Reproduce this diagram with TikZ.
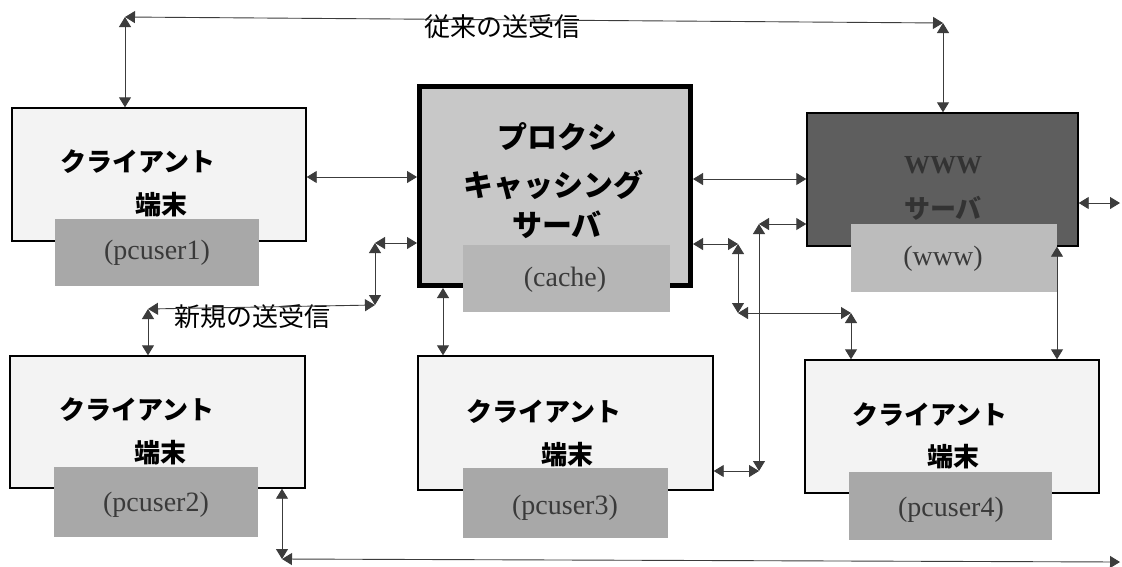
\documentclass[tikz,border=0pt]{standalone}
\usepackage{fontspec}
\setmainfont{Liberation Serif}
\newfontfamily\jp{Noto Sans CJK JP}
\usetikzlibrary{arrows.meta}
\definecolor{clientfill}{HTML}{F3F3F3}
\definecolor{labelfill}{HTML}{A8A8A8}
\definecolor{proxyfill}{HTML}{C8C8C8}
\definecolor{cachefill}{HTML}{B6B6B6}
\definecolor{wwwfill}{HTML}{5E5E5E}
\definecolor{wwwlabel}{HTML}{BCBCBC}
\definecolor{wwwtext}{HTML}{333333}
\definecolor{labtext}{HTML}{3A3A3A}
\definecolor{conncol}{HTML}{3C3C3C}
\begin{document}
\begin{tikzpicture}[x=1pt,y=-1pt,
  cbox/.style={draw=black, line width=1.4pt, fill=clientfill, inner sep=0pt},
  lbox/.style={fill=labelfill, inner sep=0pt},
  jb/.style={font=\jp\bfseries\fontsize{26}{30}\selectfont, text=black, inner sep=0pt},
  jpx/.style={font=\jp\bfseries\fontsize{30}{34}\selectfont, text=black, inner sep=0pt},
  jr/.style={font=\jp\fontsize{26}{30}\selectfont, text=black, inner sep=0pt},
  lab/.style={font=\fontsize{28}{32}\selectfont, text=labtext, inner sep=0pt},
  tipA/.tip={Triangle[length=10pt,width=12pt]},
  conn/.style={draw=conncol, line width=0.9pt, tipA-tipA}]
\useasboundingbox (0,0) rectangle (1122,566);
\fill[white] (0,0) rectangle (1122,566);

% client 1
\node[cbox, minimum width=294pt, minimum height=133pt] (c1) at (159,174.5) {};
\node[lbox, minimum width=204pt, minimum height=67pt] (l1) at (157,252.5) {};
\node[jb] (c1a) at (138,162) {クライアント};
\node[jb] (c1b) at (161,205) {端末};
\node[lab] (c1c) at (157,253) {(pcuser1)};

% client 2
\node[cbox, minimum width=295pt, minimum height=132pt] (c2) at (157.5,422) {};
\node[lbox, minimum width=204pt, minimum height=70pt] (l2) at (156,502) {};
\node[jb] (c2a) at (137,410) {クライアント};
\node[jb] (c2b) at (160,453) {端末};
\node[lab] (c2c) at (156,505) {(pcuser2)};

% client 3
\node[cbox, minimum width=295pt, minimum height=134pt] (c3) at (565.5,423) {};
\node[lbox, minimum width=205pt, minimum height=70pt] (l3) at (565.5,503) {};
\node[jb] (c3a) at (544,412) {クライアント};
\node[jb] (c3b) at (567,455) {端末};
\node[lab] (c3c) at (565,508) {(pcuser3)};

% client 4
\node[cbox, minimum width=294pt, minimum height=133pt] (c4) at (952,426.5) {};
\node[lbox, minimum width=203pt, minimum height=68pt] (l4) at (950.5,506) {};
\node[jb] (c4a) at (930,415) {クライアント};
\node[jb] (c4b) at (953,457) {端末};
\node[lab] (c4c) at (951,510) {(pcuser4)};

% proxy
\node[draw=black, line width=5pt, fill=proxyfill, inner sep=0pt,
      minimum width=271pt, minimum height=199pt] (proxy) at (555,186) {};
\node[fill=cachefill, inner sep=0pt, minimum width=207pt, minimum height=67pt] (lc) at (566.5,278.5) {};
\node[jpx] (pa) at (557,137) {プロクシ};
\node[jpx] (pb) at (553,185) {キャッシング};
\node[jpx] (pc) at (557,225) {サーバ};
\node[lab] (pd) at (565,280) {(cache)};

% www
\node[draw=black, line width=1.4pt, fill=wwwfill, inner sep=0pt,
      minimum width=271pt, minimum height=133pt] (www) at (942.5,179.5) {};
\node[fill=wwwlabel, inner sep=0pt, minimum width=206pt, minimum height=68pt] (lw) at (954,258) {};
\node[lab, font=\bfseries\fontsize{26}{30}\selectfont, text=wwwtext] (wa) at (943,165) {WWW};
\node[jb, text=wwwtext] (wb) at (943,208) {サーバ};
\node[lab] (wc) at (943,259) {(www)};

% captions
\node[jr] (cap1) at (502,27) {従来の送受信};
\node[jr] (cap2) at (252,317) {新規の送受信};

% conventional path
\coordinate (tl) at (125,17);
\coordinate (tr) at (943,23);
\draw[conn] (tl |- c1.north) -- (tl);
\draw[conn] (tl) -- (tr);
\draw[conn] (tr) -- (tr |- www.north);

% client1 - proxy
\draw[conn] (c1.east |- 0,177) -- (proxy.west |- 0,177);

% new path
\coordinate (nl) at (148,309);
\coordinate (nr) at (375,305);
\coordinate (nt) at (375,243);
\draw[conn] (nl |- c2.north) -- (nl);
\draw[conn] (nl) -- (nr);
\draw[conn] (nr) -- (nt);
\draw[conn] (nt) -- (proxy.west |- nt);

% proxy - www
\draw[conn] (proxy.east |- 0,179) -- (www.west |- 0,179);

% proxy - client4
\coordinate (a1) at (738,244);
\coordinate (a2) at (738,313);
\coordinate (a3) at (851,313);
\draw[conn] (proxy.east |- a1) -- (a1);
\draw[conn] (a1) -- (a2);
\draw[conn] (a2) -- (a3);
\draw[conn] (a3) -- (a3 |- c4.north);

% www - client3
\coordinate (b1) at (759,224);
\coordinate (b2) at (759,471);
\draw[conn] (www.west |- b1) -- (b1);
\draw[conn] (b1) -- (b2);
\draw[conn] (b2) -- (c3.east |- b2);

% proxy - client3
\draw[conn] (proxy.south -| 443,0) -- (c3.north -| 443,0);

% www - client4
\draw[conn] (www.south -| 1057,0) -- (c4.north -| 1057,0);

% www - outside
\coordinate (r1) at (1120,203);
\draw[conn] (www.east |- r1) -- (r1);

% client2 - bottom
\coordinate (d1) at (282,559);
\coordinate (d2) at (1120,562);
\draw[conn] (c2.south -| d1) -- (d1);
\draw[conn] (d1) -- (d2);
\end{tikzpicture}
\end{document}
